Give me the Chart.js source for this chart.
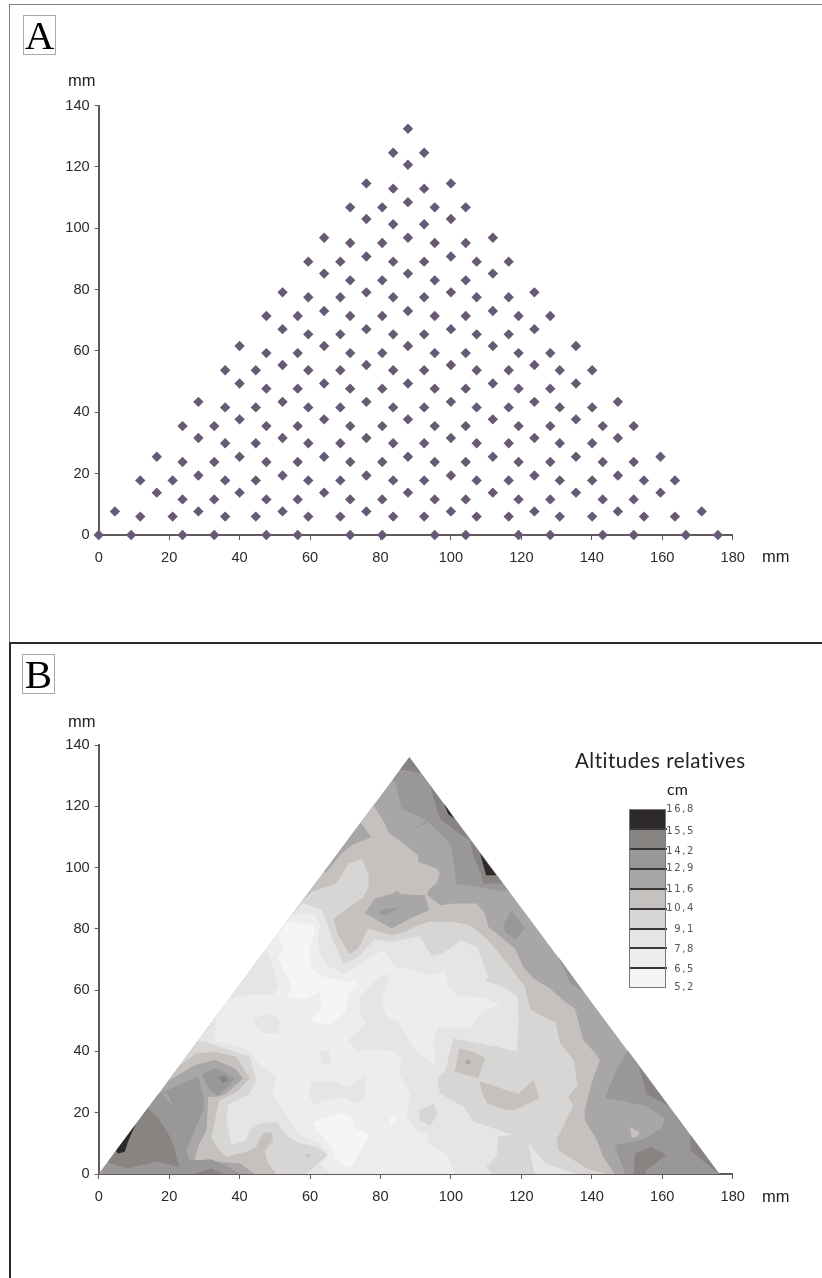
<!DOCTYPE html>
<html><head><meta charset="utf-8">
<style>
html,body{margin:0;padding:0;background:#fff;width:822px;height:1278px;overflow:hidden}
#wrap{position:relative;width:822px;height:1278px;font-family:"Liberation Sans",Arial,sans-serif;color:#222}
canvas{position:absolute;left:0}
.abs{position:absolute;white-space:nowrap}
.letter{position:absolute;border:1px solid #a8a8a8;font-family:"Liberation Serif",serif;font-size:41px;line-height:38px;text-align:center;box-sizing:border-box;color:#000;background:#fff}
.mm{font-size:16.5px;line-height:18px}
.lg{font-family:"DejaVu Sans",sans-serif;font-size:10px;letter-spacing:1.6px;line-height:12px;color:#555}
</style>
</head><body>
<div id="wrap">
<canvas id="a" width="822" height="640" style="top:0"></canvas>
<canvas id="b" width="822" height="638" style="top:640px"></canvas>
<div class="abs" style="left:9px;top:4px;width:813px;height:1px;background:#808080"></div>
<div class="abs" style="left:9px;top:4px;width:1px;height:639px;background:#808080"></div>
<div class="abs" style="left:9px;top:642px;width:813px;height:2px;background:#2e2a2b"></div>
<div class="abs" style="left:9px;top:642px;width:2px;height:636px;background:#2e2a2b"></div>
<div class="letter" style="left:23px;top:15px;width:33px;height:40px">A</div>
<div class="letter" style="left:22px;top:654px;width:33px;height:40px">B</div>
<div class="abs mm" style="left:68px;top:71px">mm</div>
<div class="abs mm" style="left:762px;top:547px">mm</div>
<div class="abs mm" style="left:68px;top:712px">mm</div>
<div class="abs mm" style="left:762px;top:1187px">mm</div>
<div class="abs" style="left:575px;top:747px;font-family:Lato,sans-serif;font-weight:400;font-size:20.5px;line-height:26px;letter-spacing:.5px;color:#222">Altitudes relatives</div>
<div class="abs" style="left:667px;top:779px;font-family:Lato,sans-serif;font-size:16px;line-height:20px;color:#222">cm</div>
<div id="legend"></div>
</div>
<script src="https://cdn.jsdelivr.net/npm/chart.js@4"></script>
<script>
// ---------- Panel A: sampling grid (mm) ----------
const columnX = [0,4.6,9.2,11.8,16.5,21,23.8,28.3,32.8,35.9,40,44.6,47.6,52.2,56.5,59.5,64,68.6,71.4,76,80.5,83.6,87.8,92.4,95.4,100,104.2,107.3,111.9,116.4,119.2,123.7,128.2,130.9,135.5,140.1,143.1,147.4,151.9,154.8,159.5,163.6,166.7,171.2,175.8];
const columnY = [
[0],[7.7],[0],[6,17.8],[13.8,25.5],[6,17.8],[0,11.6,23.8,35.5],[7.7,19.4,31.6,43.4],[0,11.6,23.8,35.5],
[6,17.8,29.9,41.6,53.7],[13.8,25.5,37.7,49.4,61.6],[6,17.8,29.9,41.6,53.7],
[0,11.6,23.8,35.5,47.7,59.3,71.4],[7.7,19.4,31.6,43.4,55.4,67.1,79.1],[0,11.6,23.8,35.5,47.7,59.3,71.4],
[6,17.8,29.9,41.6,53.7,65.4,77.5,89.1],[13.8,25.5,37.7,49.4,61.6,73,85.2,96.9],[6,17.8,29.9,41.6,53.7,65.4,77.5,89.1],
[0,11.6,23.8,35.5,47.7,59.3,71.4,83,95.2,106.8],[7.7,19.4,31.6,43.4,55.4,67.1,79.1,90.8,103,114.6],[0,11.6,23.8,35.5,47.7,59.3,71.4,83,95.2,106.8],
[6,17.8,29.9,41.6,53.7,65.4,77.5,89.1,101.3,112.9,124.6],[13.8,25.5,37.7,49.4,61.6,73,85.2,96.9,108.5,120.7,132.4],[6,17.8,29.9,41.6,53.7,65.4,77.5,89.1,101.3,112.9,124.6],
[0,11.6,23.8,35.5,47.7,59.3,71.4,83,95.2,106.8],[7.7,19.4,31.6,43.4,55.4,67.1,79.1,90.8,103,114.6],[0,11.6,23.8,35.5,47.7,59.3,71.4,83,95.2,106.8],
[6,17.8,29.9,41.6,53.7,65.4,77.5,89.1],[13.8,25.5,37.7,49.4,61.6,73,85.2,96.9],[6,17.8,29.9,41.6,53.7,65.4,77.5,89.1],
[0,11.6,23.8,35.5,47.7,59.3,71.4],[7.7,19.4,31.6,43.4,55.4,67.1,79.1],[0,11.6,23.8,35.5,47.7,59.3,71.4],
[6,17.8,29.9,41.6,53.7],[13.8,25.5,37.7,49.4,61.6],[6,17.8,29.9,41.6,53.7],
[0,11.6,23.8,35.5],[7.7,19.4,31.6,43.4],[0,11.6,23.8,35.5],[6,17.8],[13.8,25.5],[6,17.8],[0],[7.7],[0]
];

// ---------- Panel B: altitude legend ----------
const legendLabels = ["16,8","15,5","14,2","12,9","11,6","10,4","9,1","7,8","6,5","5,2"];
const c2d="#2d2829", c87="#878482", c9a="#9a9798", ca9="#a9a6a7", cc4="#c4c1be", cd8="#d8d6d4", ce6="#e6e4e5", cee="#eeedee", cf5="#f5f5f5";
const legendColors = [c2d,c87,c9a,ca9,cc4,cd8,ce6,cee,cf5];

// ---------- Panel B: contour bands, [x mm, y mm] ----------
const triangle=[[0,0],[88.2,136],[176.2,0]];
const mainC4=[[78,120.3],[81.3,114.3],[82.2,111.6],[90.7,104],[90.7,101.8],[95.9,99.7],[96.9,98],[95.9,94.8],[94,93.2],[93.1,91.3],[96.9,87.7],[101.1,88.3],[107.3,88.3],[109.7,85],[110.6,80.7],[118.2,73.6],[120.5,67.6],[123.4,63.8],[128.1,60.5],[132.4,56.2],[135.2,54],[136.6,48],[137.6,43.7],[141.4,38.8],[142.3,37.2],[139.9,29.6],[138,20.9],[138,17.6],[141.4,11.1],[143.2,5.7],[146.5,0],[44.3,0],[40,3.5],[27.2,4.6],[28.2,8.9],[30.6,14.3],[31,22],[31,25.2],[28,30],[19.7,30.4]];
const mainD8=[[57.6,88.8],[60.5,92.1],[67.5,94.8],[70.9,101.3],[74.7,102.7],[76.6,98],[76.6,93.7],[75.2,90.4],[66.7,83.4],[67.8,78.5],[71.1,71.8],[73.7,73.6],[76.5,80.1],[83.2,77.9],[86.5,79],[91.7,81.7],[94,82.3],[100.7,82.3],[105.4,81.2],[110.1,76.8],[113.4,72.5],[121,61.1],[122.6,53.5],[129.8,49.3],[130.9,42.8],[134.9,37],[135.9,29],[133.3,25.2],[134.7,22.2],[130,11.1],[130.5,7.8],[138.5,1.8],[144.2,0],[50.4,0],[48.1,3.5],[47.1,7.3],[49.5,11.1],[49,13.8],[46.6,13.3],[44.7,8.9],[41.9,7.3],[36.2,5.7],[34.3,7.8],[32,11.6],[33.4,19.8],[34.3,24.1],[39.1,26.8],[42.9,31.2],[39.1,38.3],[32.9,39.9],[27.7,39.3],[23,35.5]];
const mainE6=[[55.6,85.7],[58.1,88.3],[63.3,86.3],[65.2,80.7],[66.1,77.4],[69.4,68.5],[73.2,70.3],[78.4,76.5],[83.2,75.8],[91.2,77.6],[93.1,73.6],[94.7,71.2],[97.7,72],[103,76.3],[107.5,73.9],[110.6,64.3],[109.7,62.7],[113.9,61.6],[119,57.8],[119.2,49.1],[118.6,39.9],[112.9,41.5],[100.7,44.2],[98.3,33.4],[96.1,31.2],[96.9,26.3],[103.5,22],[106.3,17.1],[117.7,12.7],[113.4,12.2],[113,5.7],[110,2.4],[112,0],[58.9,0],[65.1,6.2],[61.8,8.9],[57,10],[53.7,12.2],[50.4,17.1],[45.7,16.5],[42.9,14.3],[41.9,11.1],[37.7,9.5],[36.2,17.6],[36.7,22.5],[42.9,26.3],[44.7,30.7],[42.9,38.3],[40,39.3],[30.1,43.2],[28.1,43.3]];
const islandE6a=[[121.9,10.2],[126.7,3.5],[133.3,0.8],[136.6,0],[123.8,0]];
const mainEE=[[66,0],[62.7,3.5],[65.1,6.2],[62.7,10],[57,12.7],[53.3,19.2],[51.4,22.5],[49.3,26.3],[50.4,32],[45.7,35.5],[42.9,40.4],[32.9,43.5],[33.4,51.3],[36.7,57],[43,58.4],[49.4,58.4],[51,61.1],[48.2,72],[47,72.5],[55,84.8],[60.9,85],[62.8,81.7],[62.3,76.3],[62.8,72],[65.2,67.6],[69.6,65.4],[73.7,68.2],[80.8,73],[84.1,67.6],[89.3,66.5],[94,64.9],[98.3,66],[99.3,61.6],[101.6,58],[109.2,57.8],[113.9,55.1],[109.2,53.5],[105.4,47.8],[96.4,47.8],[95,43.7],[95.5,35.5],[89.3,41],[85,49.7],[81.7,51.3],[80.3,56.2],[82.7,65.4],[79.4,64.1],[74.2,57.8],[74,52.4],[76,49.1],[70.9,43.7],[73.2,40.4],[82.7,40.4],[86,38.3],[85.5,32.3],[88.4,26.3],[87.4,18.7],[90.7,13.8],[93.1,13.3],[94,9.5],[98.7,6.7],[101.1,0]];
const islandE6b=[[43.8,50.2],[47.1,52.4],[50.4,51.8],[51.4,49.1],[51.1,45.9],[46.2,46.1]];
const islandE6c=[[62.5,40.1],[65.4,39.9],[65.8,35.5],[62.9,35.8],[63.5,38.3]];
const islandE6d=[[59.4,26.1],[60.6,30.1],[68.2,30.1],[70.3,28.2],[75.8,31.7],[75.6,25.2],[73.1,23],[69.8,25],[64.1,24.1],[61.3,22.5]];
const patchF5a=[[51,78.5],[53.8,82.3],[60.9,81.2],[61.4,79],[60,74.7],[60,67.6],[63.8,64.3],[71.8,62.2],[72.5,63.3],[73.7,61.1],[70.9,58.9],[70,52.9],[65.7,48.9],[60,49.7],[63.6,55.1],[62.6,59.5],[59,57.3],[53.4,57.6],[54.8,61.1],[50.7,70.7],[52.5,73]];
const patchF5b=[[60.6,16.5],[61.9,17.4],[69,19.8],[71.8,18.7],[72.8,14.9],[77.2,12.7],[75.1,8.9],[71.3,1.8],[66.6,5.1],[67.1,6.7],[63.3,12.7]];
const patchF5c=[[82.4,15.7],[82.9,18.7],[84.1,19.2],[84.4,17.4]];
const islandD8=[[91,20.7],[95.2,23],[96.2,19.2],[94,15.8],[91.2,17.6]];
const islandC4a=[[102.4,41],[106,39.9],[109.7,38],[107.8,31.2],[101.1,33.4]];
const dotA9=[[104.2,37.2],[105.6,37],[105.4,35.8],[104.2,35.8]];
const islandC4b=[[108.2,30.3],[119.1,26.1],[123.5,30.7],[125.1,24.7],[118.2,20.9],[116,20.9],[110.3,23],[108.7,26.8]];
const dotC4=[[58.8,6.5],[60.4,6.2],[59.2,5.1]];
const patchA9edge=[[74.4,114.7],[77.4,109.8],[72.3,107.6],[69,104.6],[64.7,98.6],[63.9,98.5]];
const ridgeA9=[[19.7,30.4],[27.2,35.5],[32.9,37.2],[38.6,34.5],[41,31.2],[36.2,26.3],[33.9,25.2],[31,25.2]];
const midA9=[[75.6,85.2],[78.4,89.9],[83.6,91.5],[84.6,92.4],[86,91.3],[92.6,91],[93.8,86.1],[88.4,83.4],[83.2,80.1],[79.9,82.3]];
const mid9A=[[79.8,85.5],[81.3,86.6],[85,86.8],[81.7,84.5],[80.3,84.5]];
const top9A=[[83.4,128.6],[84.4,127.4],[86,119.2],[93.1,115.4],[89.3,112.4],[93.6,114.9],[98.8,108.9],[100.2,106.7],[101.2,98],[101.4,94.6],[104.4,94.2],[116.5,92],[88.2,136]];
const diamond9A=[[115,81.7],[117.2,85.9],[121,80.4],[118.5,76.3],[115.3,79]];
const strip9A=[[130.5,70.9],[131.9,67],[134,62],[137.6,59.5]];
const low9A=[[150.2,40.4],[147,33.9],[143.7,24.7],[149.9,23.6],[155.5,22],[160.7,18.2],[159.8,14.9],[154.1,11.1],[146.5,9.5],[148,4.6],[149.4,0],[176.2,0]];
const left9A=[[16.9,26.1],[28.2,31.7],[29.8,25.2],[29.8,20.9],[27.2,14.3],[24.9,7.8],[25.8,4.3],[32,4.8],[36.7,2.4],[40,0],[0,0]];
const wedgeA9=[[17.8,26.6],[19.5,26.2],[21.1,21.9]];
const peak9A=[[29.3,32.3],[32.9,34.5],[34.3,34.2],[38.6,31.2],[36.7,28.5],[33.9,25.5],[31.5,27.4]];
const apex87=[[85.6,132],[88.2,136],[91.5,130.9],[88,131.6]];
const topRight87=[[94.1,126.6],[95.4,121.4],[96.9,116],[103,110.5],[105.4,108.9],[106.3,104],[108.7,97.5],[109.2,94.8],[114.7,94.8]];
const lowRight87a=[[153.2,35.5],[154.1,32.3],[155.5,26.3],[161.9,22]];
const lowRight87b=[[168,12.7],[167.9,7.8],[175.5,0.5],[176.2,0]];
const lowRight87c=[[152.2,6.7],[156.9,8.9],[161.2,6.2],[155.5,1.3],[155.1,0],[152,0]];
const dotC4b=[[150.8,15.4],[153.4,13.6],[153.2,12.2],[151.3,11.8]];
const corner87=[[14,21.6],[17.3,17.6],[20.2,12.2],[21.6,7.8],[22.8,2.4],[16.4,4],[7.9,1.8],[3.1,3.5],[2.6,4]];
const bottom87=[[26.8,0],[32,1.8],[35.3,0]];
const peak87=[[33.9,31.7],[35.8,32],[36.9,30.7],[35.3,29.6]];
const top2D=[[98.1,120.8],[99.2,117.5],[101,115.9]];
const right2D=[[108.3,104.6],[109.2,100.8],[110,97.5],[112.9,97.5]];
const left2D=[[10.5,16.2],[8.3,10.5],[7.4,7.3],[5.5,6.7],[4.9,7.6]];

// paint order: first listed is painted first
const paint=[
[triangle,ca9],[mainC4,cc4],[mainD8,cd8],[mainE6,ce6],[islandE6a,ce6],[mainEE,cee],[islandE6b,ce6],[islandE6c,ce6],[islandE6d,ce6],
[patchF5a,cf5],[patchF5b,cf5],[patchF5c,cf5],[islandD8,cd8],[islandC4a,cc4],[dotA9,ca9],[islandC4b,cc4],[dotC4,cc4],
[patchA9edge,ca9],[ridgeA9,ca9],[midA9,ca9],[mid9A,c9a],[top9A,c9a],[diamond9A,c9a],[strip9A,c9a],[low9A,c9a],[left9A,c9a],[wedgeA9,ca9],[peak9A,c9a],
[apex87,c87],[topRight87,c87],[lowRight87a,c87],[lowRight87b,c87],[lowRight87c,c87],[dotC4b,cc4],[corner87,c87],[bottom87,c87],[peak87,c87],
[top2D,c2d],[right2D,c2d],[left2D,c2d]
];

// ---------- axes ----------
const xMax=180, yMax=140, xStep=20, yStep=20;
const axisColor="#625a5d", tickFont={family:"'Liberation Sans',Arial,sans-serif",size:14.6};

function scales(){
  return {
    x:{type:'linear',min:0,max:xMax,afterFit(s){s.height=30},
       border:{color:axisColor,width:2},
       grid:{drawOnChartArea:false,drawTicks:true,tickLength:5,tickColor:axisColor,tickWidth:1},
       ticks:{stepSize:xStep,color:"#2a2a2a",font:tickFont,padding:9,maxRotation:0,autoSkip:false,includeBounds:true}},
    y:{type:'linear',min:0,max:yMax,afterFit(s){s.width=98.7},
       border:{color:axisColor,width:2},
       grid:{drawOnChartArea:false,drawTicks:true,tickLength:4,tickColor:axisColor,tickWidth:1},
       ticks:{stepSize:yStep,color:"#2a2a2a",font:tickFont,padding:5,autoSkip:false,includeBounds:true}}
  };
}
const base=(pad)=>({responsive:false,animation:false,layout:{padding:pad},plugins:{legend:{display:false},tooltip:{enabled:false}},scales:scales()});

const pointsA=[];
columnX.forEach((x,i)=>columnY[i].forEach(y=>pointsA.push({x,y})));
new Chart(document.getElementById('a'),{type:'scatter',
  data:{datasets:[{data:pointsA,pointStyle:'rectRot',pointRadius:5.2,backgroundColor:'#675a75',borderWidth:0,pointBorderWidth:0,clip:false}]},
  options:base({left:0,right:89.3,top:105.5,bottom:75})});

new Chart(document.getElementById('b'),{type:'scatter',
  data:{datasets:paint.map(([poly,color],i)=>({
    data:poly.map(([x,y])=>({x,y})),showLine:true,tension:0,fill:'shape',
    backgroundColor:color,borderColor:color,borderWidth:0,pointRadius:0,order:paint.length-i}))},
  options:base({left:0,right:89.3,top:105,bottom:74})});

// ---------- legend (real text) ----------
const lg=document.getElementById('legend');
const legendEdges=[809,829.3,849,868.7,889,909,928.7,948.3,968.3,987.7];
const labelCentres=[809,830.7,850.7,868,889,907.7,929,949,969,987];
legendColors.forEach((c,i)=>{const d=document.createElement('div');d.className='abs';
  d.style.cssText+=`left:629px;top:${legendEdges[i]}px;width:36px;height:${legendEdges[i+1]-legendEdges[i]}px;background:${c}`;lg.appendChild(d)});
legendEdges.slice(1,-1).forEach(e=>{const d=document.createElement('div');d.className='abs';
  d.style.cssText+=`left:629px;top:${e-1}px;width:38px;height:2px;background:#3a3537`;lg.appendChild(d)});
const fr=document.createElement('div');fr.className='abs';fr.style.cssText+='left:629px;top:809px;width:37px;height:179px;border:1px solid #777;box-sizing:border-box';lg.appendChild(fr);
legendLabels.forEach((t,i)=>{const d=document.createElement('div');d.className='abs lg';d.textContent=t;
  d.style.top=(labelCentres[i]-6)+'px';d.style.right=(822-695)+'px';lg.appendChild(d)});
</script>
</body></html>
